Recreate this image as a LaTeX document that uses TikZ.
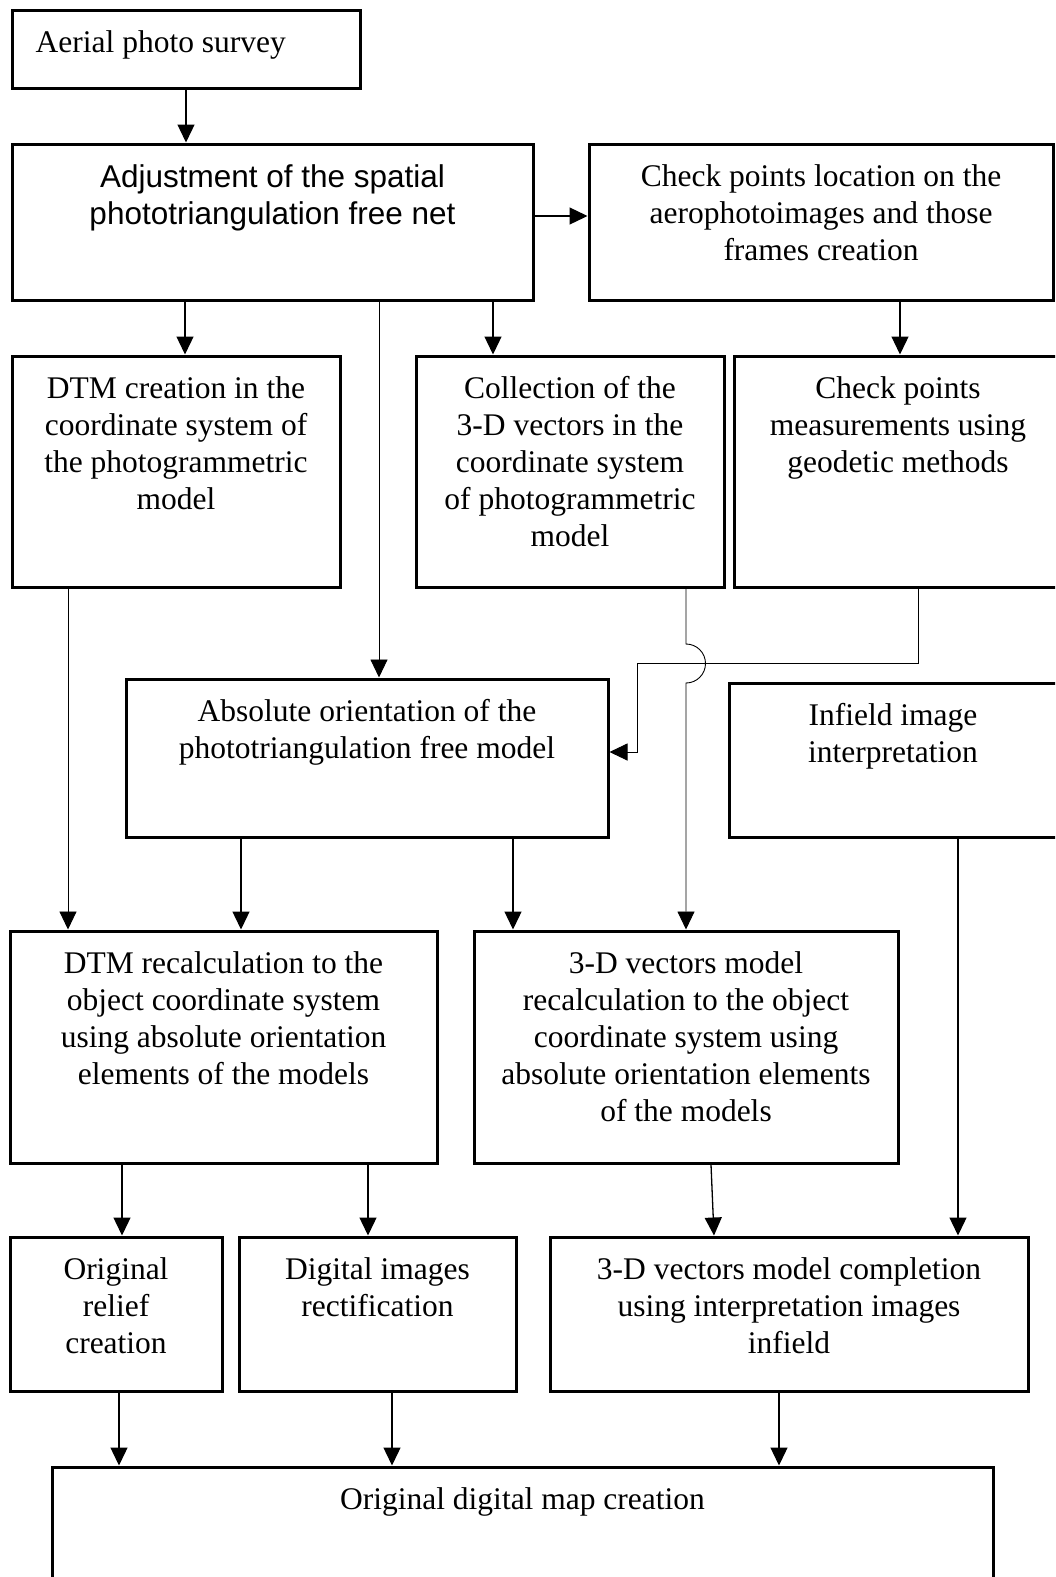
\documentclass[tikz,border=0pt]{standalone}
\usepackage{fontspec}
\setmainfont{Liberation Serif}
\newfontfamily\arialfont{Liberation Sans}
\usetikzlibrary{arrows.meta,positioning}

\begin{document}
\begin{tikzpicture}[
x=1pt, y=-1pt,
box/.style={draw, line width=3pt, inner sep=0pt},
txt/.style={anchor=north, align=center, inner sep=0pt, font=\fontsize{31.5}{37}\selectfont, yshift=-22pt},
arr/.style={-{Triangle[length=18pt,width=17pt]}, line width=1.3pt},
thinarr/.style={arr, line width=0.9pt}
]
\useasboundingbox (0,0) rectangle (1055,1577);
\clip (0,0) rectangle (1055,1577);

% boxes
\node[box, minimum width=348pt, minimum height=78pt] (aerial) at (186,49) {};
\node[box, minimum width=521pt, minimum height=156pt] (adj) at (272.5,222) {};
\node[box, minimum width=464pt, minimum height=156pt] (chkloc) at (821,222) {};
\node[box, minimum width=328pt, minimum height=231pt] (dtm) at (176,471.5) {};
\node[box, minimum width=308pt, minimum height=231pt] (coll) at (570,471.5) {};
\node[box, minimum width=328pt, minimum height=231pt] (chkmeas) at (898,471.5) {};
\node[box, minimum width=482pt, minimum height=158pt] (abs) at (367,758) {};
\node[box, minimum width=328pt, minimum height=154pt] (infield) at (893,760) {};
\node[box, minimum width=427pt, minimum height=232pt] (dtmre) at (223.5,1047) {};
\node[box, minimum width=424pt, minimum height=232pt] (vecre) at (686,1047) {};
\node[box, minimum width=212pt, minimum height=154pt] (relief) at (116,1314) {};
\node[box, minimum width=277pt, minimum height=154pt] (rect) at (377.5,1314) {};
\node[box, minimum width=478pt, minimum height=154pt] (compl) at (789,1314) {};
\node[box, minimum width=941pt, minimum height=200pt] (map) at (522.5,1567) {};

% texts
\node[txt, anchor=north west, xshift=25pt] (aerial-t) at (aerial.north west) {Aerial photo survey};
\node[txt, font=\arialfont\fontsize{31.5}{37}\selectfont] (adj-t) at (adj.north) {Adjustment of the spatial\\phototriangulation free net};
\node[txt] (chkloc-t) at (chkloc.north) {Check points location on the\\aerophotoimages and those\\frames creation};
\node[txt] (dtm-t) at (dtm.north) {DTM creation in the\\coordinate system of\\the photogrammetric\\model};
\node[txt] (coll-t) at (coll.north) {Collection of the\\3-D vectors in the\\coordinate system\\of photogrammetric\\model};
\node[txt] (chkmeas-t) at (chkmeas.north) {Check points\\measurements using\\geodetic methods};
\node[txt] (abs-t) at (abs.north) {Absolute orientation of the\\phototriangulation free model};
\node[txt] (infield-t) at (infield.north) {Infield image\\interpretation};
\node[txt] (dtmre-t) at (dtmre.north) {DTM recalculation to the\\object coordinate system\\using absolute orientation\\elements of the models};
\node[txt] (vecre-t) at (vecre.north) {3-D vectors model\\recalculation to the object\\coordinate system using\\absolute orientation elements\\of the models};
\node[txt] (relief-t) at (relief.north) {Original\\relief\\creation};
\node[txt] (rect-t) at (rect.north) {Digital images\\rectification};
\node[txt] (compl-t) at (compl.north) {3-D vectors model completion\\using interpretation images\\infield};
\node[txt] (map-t) at (map.north) {Original digital map creation};

% connectors
\draw[arr] (aerial.south) -- (aerial.south |- adj.north);
\draw[arr] (adj.east |- 0,216) -- (chkloc.west |- 0,216);
\draw[arr] (adj.south -| 185,0) -- (dtm.north -| 185,0);
\draw[thinarr] (adj.south -| 379,0) -- (abs.north -| 379,0);
\draw[arr] (adj.south -| 493,0) -- (coll.north -| 493,0);
\draw[arr] (chkloc.south -| 900,0) -- (chkmeas.north -| 900,0);
\draw[thinarr] (dtm.south -| 68,0) -- (dtmre.north -| 68,0);
\draw[thinarr] (chkmeas.south -| 918,0) |- (637,663) |- (abs.east |- 0,752);
\draw[thinarr] (coll.south -| 686,0) -- (686,644) arc[start angle=90, end angle=-90, radius=19.5pt] -- (vecre.north -| 686,0);
\draw[arr] (abs.south -| 241,0) -- (dtmre.north -| 241,0);
\draw[arr] (abs.south -| 513,0) -- (vecre.north -| 513,0);
\draw[arr] (dtmre.south -| 122,0) -- (relief.north -| 122,0);
\draw[arr] (dtmre.south -| 368,0) -- (rect.north -| 368,0);
\draw[arr] (vecre.south -| 711,0) -- (compl.north -| 714,0);
\draw[arr] (infield.south -| 958,0) -- (compl.north -| 958,0);
\draw[arr] (relief.south -| 119,0) -- (map.north -| 119,0);
\draw[arr] (rect.south -| 392,0) -- (map.north -| 392,0);
\draw[arr] (compl.south -| 779,0) -- (map.north -| 779,0);
\end{tikzpicture}
\end{document}
